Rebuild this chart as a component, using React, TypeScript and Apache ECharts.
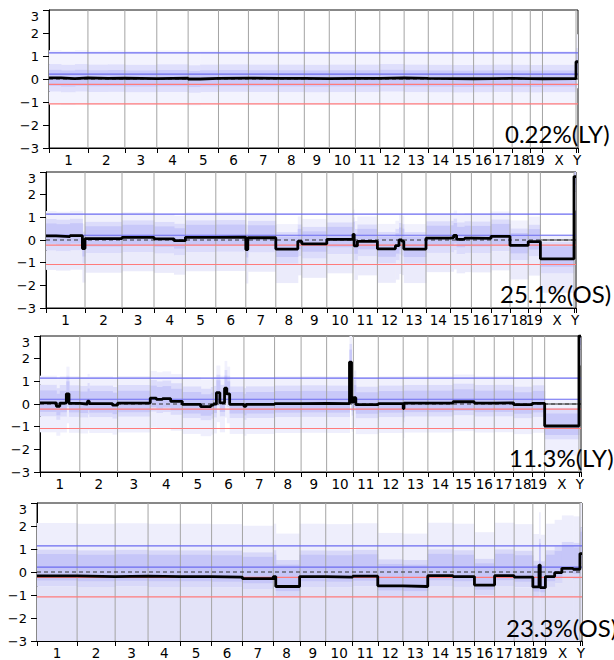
import React, { useEffect, useRef } from "react";
import * as echarts from "echarts";

// ---------- DATA ----------
const chromNames = ["1","2","3","4","5","6","7","8","9","10","11","12","13","14","15","16","17","18","19","X","Y"];
// chromosome lengths (Mb) as drawn on the genome axis
const chromLengths = [195,185,160,157,152,150,150,130,125,131,122,122,121,123,104,98,95,91,61,168,10];

// reference threshold lines (log ratio)
const thresholdValues = [1.14, 0.21, -0.23, -1.08];

const panelLabels = ["0.22%(LY)", "25.1%(OS)", "11.3%(LY)", "23.3%(OS)"];

// segments: [chromosome, startMb, endMb, log ratio]
const segmentsLY1: [string, number, number, number][] = [
  ["1",0,60,0.05],["1",60,130,0.02],["1",130,195,0.05],
  ["2",0,100,0.03],["2",100,185,0.04],
  ["3",0,160,0.02],["4",0,157,0.04],
  ["5",0,60,0.0],["5",60,152,0.03],
  ["6",0,150,0.04],["7",0,150,0.03],["8",0,130,0.03],["9",0,125,0.02],
  ["10",0,131,0.03],["11",0,122,0.03],["12",0,122,0.05],["13",0,121,0.03],
  ["14",0,123,0.02],["15",0,104,0.01],["16",0,98,0.02],["17",0,95,0.03],
  ["18",0,91,0.02],["19",0,61,0.01],["X",0,168,0.02],["Y",0,10,0.75],
];
const segmentsOS1: [string, number, number, number][] = [
  ["1",0,50,0.18],["1",50,120,0.15],["1",120,182,0.19],["1",182,195,-0.38],
  ["2",0,185,0.06],["3",0,160,0.12],
  ["4",0,100,0.05],["4",100,157,-0.03],
  ["5",0,152,0.12],["6",0,150,0.13],
  ["7",0,10,-0.42],["7",10,150,0.1],
  ["8",0,110,-0.4],["8",110,130,-0.06],
  ["9",0,125,-0.17],["10",0,131,0.03],
  ["11",0,6,0.25],["11",6,22,-0.26],["11",22,122,-0.06],
  ["12",0,90,-0.39],["12",90,108,-0.25],["12",108,122,0.0],
  ["13",0,10,-0.05],["13",10,121,-0.4],
  ["14",0,123,0.08],
  ["15",0,15,0.1],["15",15,30,0.2],["15",30,70,0.03],["15",70,104,0.08],
  ["16",0,98,0.07],["17",0,95,0.16],["18",0,91,-0.24],["19",0,61,-0.07],
  ["X",0,168,-0.83],["Y",0,10,2.8],
];
const segmentsLY2: [string, number, number, number][] = [
  ["1",0,80,0.05],["1",80,97,-0.1],["1",97,129,0.04],["1",129,142,0.45],["1",142,195,0.03],
  ["2",0,38,0.0],["2",38,46,0.13],["2",46,160,0.02],["2",160,185,-0.05],
  ["3",0,160,0.04],
  ["4",0,30,0.26],["4",30,60,0.2],["4",60,100,0.24],["4",100,157,0.12],
  ["5",0,90,-0.02],["5",90,140,-0.12],["5",140,152,-0.05],
  ["6",0,15,0.0],["6",15,32,0.5],["6",32,55,0.05],["6",55,66,0.7],["6",66,80,0.45],["6",80,150,-0.02],
  ["7",0,10,-0.1],["7",10,150,-0.02],
  ["8",0,130,0.02],["9",0,125,0.03],
  ["10",0,112,0.02],["10",112,122,1.85],["10",122,131,0.08],
  ["11",0,12,0.28],["11",12,122,-0.03],
  ["12",0,122,0.02],
  ["13",0,4,-0.2],["13",4,121,0.04],
  ["14",0,123,0.04],["15",0,104,0.1],["16",0,98,0.04],["17",0,95,0.05],
  ["18",0,91,-0.03],["19",0,61,0.03],
  ["X",0,168,-0.97],["Y",0,10,3],
];
const segmentsOS2: [string, number, number, number][] = [
  ["1",0,195,-0.17],["2",0,185,-0.2],["3",0,160,-0.18],["4",0,157,-0.2],
  ["5",0,152,-0.2],["6",0,150,-0.22],["7",0,150,-0.29],
  ["8",0,12,-0.2],["8",12,128,-0.63],["8",128,130,-0.2],
  ["9",0,125,-0.2],["10",0,131,-0.22],["11",0,122,-0.18],
  ["12",0,122,-0.6],["13",0,121,-0.63],["14",0,123,-0.16],["15",0,104,-0.2],
  ["16",0,98,-0.57],["17",0,95,-0.16],["18",0,91,-0.22],
  ["19",0,30,-0.65],["19",30,36,0.3],["19",36,61,-0.68],
  ["X",0,45,-0.2],["X",45,80,-0.03],["X",80,135,0.16],["X",135,168,0.12],
  ["Y",0,10,0.8],
];
// probe spread around each segment:
// [dense above, dense below, mid above, mid below, sparse above, sparse below]
const spreadLY1 = [0.35, 0.35, 0.6, 0.6, 1.2, 1.15];
const spreadOS1 = [0.55, 0.35, 0.75, 0.65, 1.1, 1.5];
const spreadLY2 = [0.55, 0.4, 0.8, 0.6, 1.2, 1.3];
const spreadOS2 = [0.95, 0.2, 1.15, 0.45, 2.3, 3.5];
// chromosomes where the zero reference is drawn solid
const solidZeroLY1: string[] = [];
const solidZeroOS1 = ["X", "Y"];
const solidZeroLY2 = ["X", "Y"];
const solidZeroOS2: string[] = [];

// ---------- LAYOUT / STYLE ----------
const panels = [
  { segs: segmentsLY1, spread: spreadLY1, solidZero: solidZeroLY1, label: panelLabels[0] },
  { segs: segmentsOS1, spread: spreadOS1, solidZero: solidZeroOS1, label: panelLabels[1] },
  { segs: segmentsLY2, spread: spreadLY2, solidZero: solidZeroLY2, label: panelLabels[2] },
  { segs: segmentsOS2, spread: spreadOS2, solidZero: solidZeroOS2, label: panelLabels[3] },
];
const gridBoxes = [
  { left: 49, top: 10, width: 529, height: 138 },
  { left: 46, top: 172, width: 530, height: 136 },
  { left: 40, top: 336, width: 541, height: 136 },
  { left: 37, top: 503, width: 545, height: 138 },
];
const labelPos = [
  [505, 133], [500, 293], [509, 457], [506, 627],
];
const denseColors = ["#cacafa", "#c8c8f9", "#c8c8f9", "#c6c6f8"];
const midColors = ["#dfdffc", "#dcdcfb", "#dcdcfb", "#d8d8f9"];
const sparseAboveColors = ["#f3f3fe", "#f1f1fd", "#f1f1fd", "#eeeefc"];
const sparseBelowColors = ["#f3f3fe", "#ebebfb", "#efeffd", "#e3e3f8"];
const thresholdColors = ["#6b6bf0", "#6b6bf0", "#ff7b7b", "#ff7b7b"];

function buildOption() {
  const offsets: number[] = [];
  let acc = 0;
  chromLengths.forEach((l) => { offsets.push(acc); acc += l; });
  const total = acc;
  const mids = offsets.map((o, i) => o + chromLengths[i] / 2);
  const tickVals = [...offsets, total];
  const idx = (c: string) => chromNames.indexOf(c);
  const clamp = (v: number) => Math.max(-3, Math.min(3, v));

  const grid: any[] = [];
  const xAxis: any[] = [];
  const yAxis: any[] = [];
  const series: any[] = [];
  const graphic: any[] = [];

  const rectRender = (color: string) => (params: any, api: any) => {
    const a = api.coord([api.value(0), api.value(3)]);
    const b = api.coord([api.value(1), api.value(2)]);
    return { type: "rect", shape: { x: a[0], y: a[1], width: b[0] - a[0] + 0.5, height: b[1] - a[1] }, style: { fill: color } };
  };

  panels.forEach((p, i) => {
    grid.push({ ...gridBoxes[i], show: true, borderColor: "#111", borderWidth: 1, backgroundColor: "transparent" });
    xAxis.push({
      type: "value", gridIndex: i, min: 0, max: total,
      axisLine: { show: true, onZero: false, lineStyle: { color: "#000", width: 1 } },
      axisTick: { show: true, customValues: tickVals, length: 5, inside: false, lineStyle: { color: "#000" } },
      axisLabel: {
        show: true, customValues: mids, margin: 5, color: "#000", fontSize: 13.5, fontFamily: "DejaVu Sans",
        formatter: (val: number) => {
          let best = 0;
          mids.forEach((m, k) => { if (Math.abs(m - val) < Math.abs(mids[best] - val)) best = k; });
          return chromNames[best];
        },
      },
      splitLine: { show: false },
    });
    yAxis.push({
      type: "value", gridIndex: i, min: -3, max: 3, interval: 1,
      axisLine: { show: true, onZero: false, lineStyle: { color: "#000", width: 1 } },
      axisTick: { show: true, length: 6, inside: false, lineStyle: { color: "#000" } },
      axisLabel: {
        color: "#000", fontSize: 13, fontFamily: "DejaVu Sans", margin: 10,
        verticalAlignMaxLabel: "top",
        formatter: (v: number) => (v < 0 ? "\u2212" + Math.abs(v) : String(v)),
      },
      splitLine: { show: false },
    });

    const gs = p.segs.map((s) => [offsets[idx(s[0])] + s[1], offsets[idx(s[0])] + s[2], s[3]]);
    const [dHi, dLo, mHi, mLo, sHi, sLo] = p.spread;

    // probe clouds: sparse above / below, mid, dense
    const layers: [number, number, string, number][] = [
      [-mHi, sHi, sparseAboveColors[i], 1],
      [sLo, -mLo, sparseBelowColors[i], 1],
      [mLo, mHi, midColors[i], 2],
      [dLo, dHi, denseColors[i], 2],
    ];
    layers.forEach(([lo, hi, color, z]) => {
      series.push({
        type: "custom", xAxisIndex: i, yAxisIndex: i, z, silent: true, clip: true,
        encode: { x: [0, 1], y: [2, 3] },
        data: gs.map((g) => [g[0], g[1], clamp(g[2] - lo), clamp(g[2] + hi)]),
        renderItem: rectRender(color),
      });
    });
    // chromosome boundary lines
    series.push({
      type: "custom", xAxisIndex: i, yAxisIndex: i, z: 3, silent: true, clip: true,
      encode: { x: 0, y: [1, 2] },
      data: offsets.slice(1).map((o) => [o, -3, 3]),
      renderItem: (params: any, api: any) => {
        const a = api.coord([api.value(0), api.value(1)]);
        const b = api.coord([api.value(0), api.value(2)]);
        return { type: "line", shape: { x1: a[0], y1: a[1], x2: b[0], y2: b[1] }, style: { stroke: "#a4a4a4", lineWidth: 1 } };
      },
    });
    // threshold & zero reference lines
    const refData: any[] = thresholdValues.map((v, k) => [0, total, v, k]);
    refData.push([0, total, 0, 4]);
    p.solidZero.forEach((c) => {
      const o = offsets[idx(c)];
      refData.push([o, o + chromLengths[idx(c)], 0, 5]);
    });
    series.push({
      type: "custom", xAxisIndex: i, yAxisIndex: i, z: 4, silent: true, clip: true,
      encode: { x: [0, 1], y: 2 },
      data: refData,
      renderItem: (params: any, api: any) => {
        const a = api.coord([api.value(0), api.value(2)]);
        const b = api.coord([api.value(1), api.value(2)]);
        const k = api.value(3);
        let style: any;
        if (k < 4) style = { stroke: thresholdColors[k], lineWidth: 1.2 };
        else if (k === 4) style = { stroke: "#333", lineWidth: 1, lineDash: [4, 3] };
        else style = { stroke: "#333", lineWidth: 1.2 };
        return { type: "line", shape: { x1: a[0], y1: a[1], x2: b[0], y2: b[1] }, style };
      },
    });
    // segmented copy-number line
    series.push({
      type: "line", xAxisIndex: i, yAxisIndex: i, z: 5, silent: true,
      showSymbol: false, symbol: "none",
      lineStyle: { color: "#000", width: 2.8 },
      data: gs.flatMap((g) => [[g[0], g[2]], [g[1], g[2]]]),
    });

    graphic.push({
      type: "text", x: labelPos[i][0], y: labelPos[i][1], z: 100, silent: true,
      style: { text: p.label, font: "24px Lato", fill: "#000", verticalAlign: "middle", align: "left" },
    });
  });

  return { animation: false, backgroundColor: "#fff", grid, xAxis, yAxis, series, graphic };
}

export default function App() {
  const ref = useRef<HTMLDivElement>(null);
  useEffect(() => {
    const chart = echarts.init(ref.current!, undefined, { renderer: "svg" });
    chart.setOption(buildOption() as any);
    return () => chart.dispose();
  }, []);
  return <div ref={ref} style={{ position: "absolute", left: 0, top: 0, width: 614, height: 660 }} />;
}
